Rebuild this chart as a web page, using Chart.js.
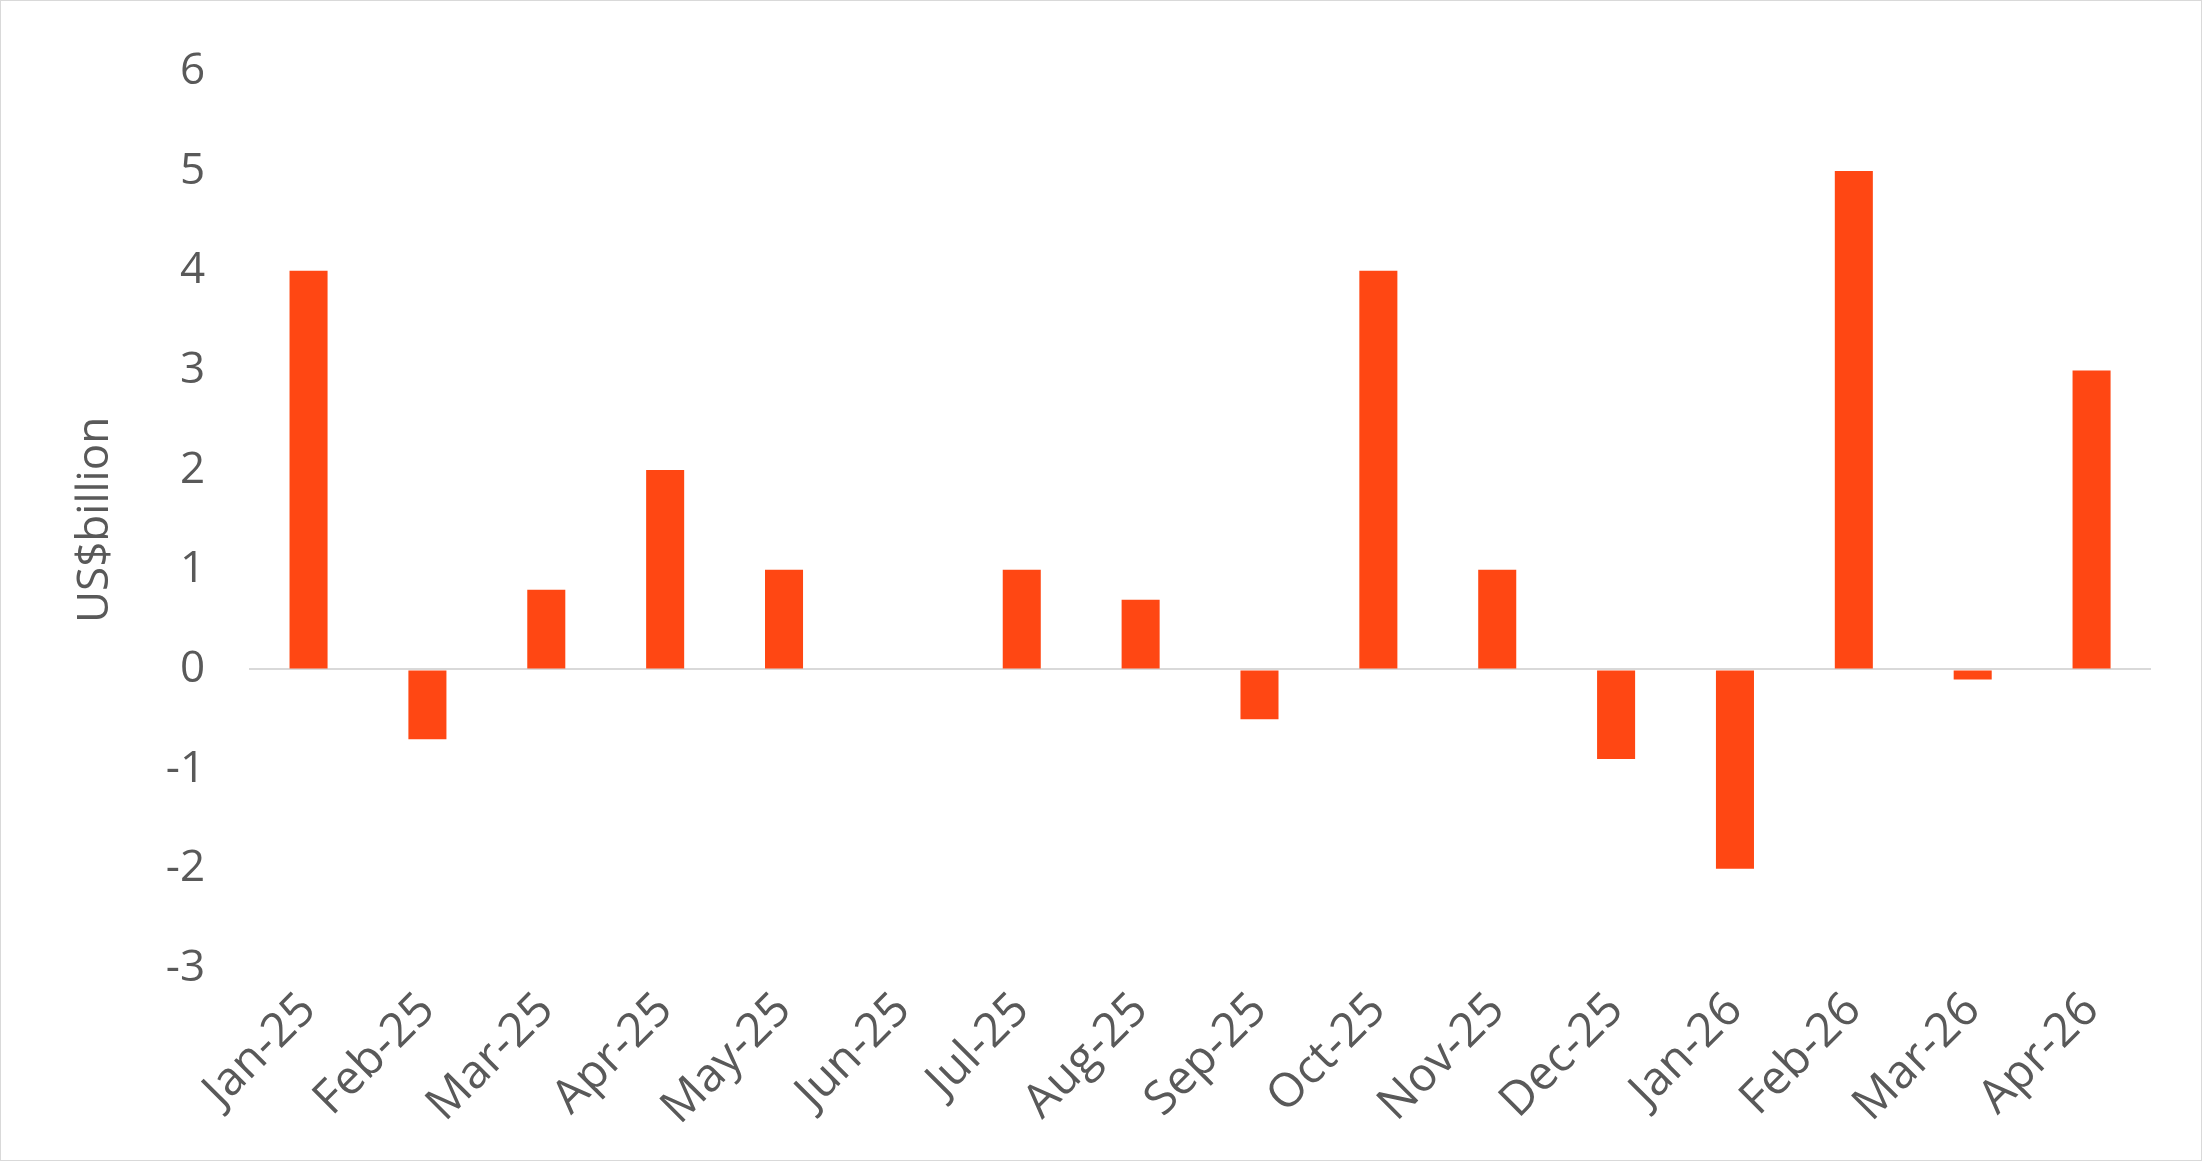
<!DOCTYPE html>
<html><head><meta charset="utf-8">
<script src="https://cdn.jsdelivr.net/npm/chart.js@4/dist/chart.umd.min.js"></script>
<style>
html,body{margin:0;padding:0;background:#fff;}
#wrap{width:2200px;height:1159px;border:1px solid #d9d9d9;}
</style></head>
<body>
<div id="wrap"><canvas id="c" width="2200" height="1159"></canvas></div>
<script>
const months = ["Jan-25","Feb-25","Mar-25","Apr-25","May-25","Jun-25","Jul-25","Aug-25","Sep-25","Oct-25","Nov-25","Dec-25","Jan-26","Feb-26","Mar-26","Apr-26"];
const values = [4,-0.7,0.8,2,1,0,1,0.7,-0.5,4,1,-0.9,-2,5,-0.1,3];
const yMin = -3, yMax = 6;
const textColor = "#595959";
const font = "'Open Sans', 'Liberation Sans', sans-serif";

new Chart(document.getElementById("c"), {
  type: "bar",
  data: { labels: months, datasets: [{ data: values, backgroundColor: "#FF4713", barPercentage: 0.32, categoryPercentage: 1 }] },
  options: {
    responsive: false,
    animation: false,
    layout: { padding: { top: 22, right: 50, left: 68, bottom: 18 } },
    plugins: { legend: { display: false }, tooltip: { enabled: false } },
    scales: {
      x: {
        grid: { display: false },
        border: { display: false },
        ticks: { color: textColor, font: { family: font, size: 47 }, maxRotation: 45, minRotation: 45, padding: 6 }
      },
      y: {
        min: yMin, max: yMax,
        border: { display: false },
        grid: { color: ctx => ctx.tick.value === 0 ? "#d9d9d9" : "transparent", lineWidth: 2, drawTicks: false },
        ticks: { stepSize: 1, color: textColor, font: { family: font, size: 44 }, padding: 44 },
        title: { display: true, text: "US$billion", color: textColor, font: { family: font, size: 44 }, padding: 0 }
      }
    }
  }
});
</script>
</body></html>
